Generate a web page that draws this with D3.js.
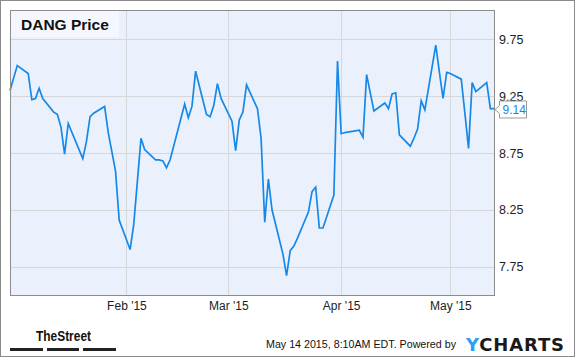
<!DOCTYPE html>
<html>
<head>
<meta charset="utf-8">
<script src="https://cdn.jsdelivr.net/npm/d3@7"></script>
<style>
  body { margin: 0; background: #fff; }
  svg { display: block; font-family: "Liberation Sans", Arial, sans-serif; }
</style>
</head>
<body>
<svg id="chart"></svg>
<script>
// Trading days shown on the chart
const dates = [
  "2014-12-31", "2015-01-02", "2015-01-05", "2015-01-06", "2015-01-07", "2015-01-08", "2015-01-09",
  "2015-01-12", "2015-01-13", "2015-01-14", "2015-01-15", "2015-01-16",
  "2015-01-20", "2015-01-21", "2015-01-22", "2015-01-23",
  "2015-01-26", "2015-01-27", "2015-01-28", "2015-01-29", "2015-01-30",
  "2015-02-02", "2015-02-03", "2015-02-04", "2015-02-05", "2015-02-06",
  "2015-02-09", "2015-02-10", "2015-02-11", "2015-02-12", "2015-02-13",
  "2015-02-17", "2015-02-18", "2015-02-19", "2015-02-20",
  "2015-02-23", "2015-02-24", "2015-02-25", "2015-02-26", "2015-02-27",
  "2015-03-02", "2015-03-03", "2015-03-04", "2015-03-05", "2015-03-06",
  "2015-03-09", "2015-03-10", "2015-03-11", "2015-03-12", "2015-03-13",
  "2015-03-16", "2015-03-17", "2015-03-18", "2015-03-19", "2015-03-20",
  "2015-03-23", "2015-03-24", "2015-03-25", "2015-03-26", "2015-03-27",
  "2015-03-30", "2015-03-31", "2015-04-01", "2015-04-02",
  "2015-04-06", "2015-04-07", "2015-04-08", "2015-04-09", "2015-04-10",
  "2015-04-13", "2015-04-14", "2015-04-15", "2015-04-16", "2015-04-17",
  "2015-04-20", "2015-04-21", "2015-04-22", "2015-04-23", "2015-04-24",
  "2015-04-27", "2015-04-28", "2015-04-29", "2015-04-30", "2015-05-01",
  "2015-05-04", "2015-05-05", "2015-05-06", "2015-05-07", "2015-05-08",
  "2015-05-11", "2015-05-12", "2015-05-13"
];

const prices = [
  9.30, 9.52, 9.45, 9.22, 9.23, 9.32, 9.23,
  9.11, 9.09, 8.98, 8.74, 9.01,
  8.70, 8.85, 9.07, 9.10,
  9.16, 8.93, 8.76, 8.59, 8.16,
  7.90, 8.12, 8.50, 8.88, 8.78,
  8.69, 8.69, 8.68, 8.62, 8.69,
  9.18, 9.06, 9.16, 9.47,
  9.09, 9.07, 9.17, 9.36, 9.23,
  9.03, 8.77, 9.04, 9.11, 9.35,
  9.14, 8.88, 8.14, 8.52, 8.25,
  7.86, 7.67, 7.89, 7.93, 8.00,
  8.23, 8.41, 8.45, 8.09, 8.09,
  8.38, 9.56, 8.92, 8.93,
  8.95, 8.89, 9.44, 9.28, 9.12,
  9.19, 9.14, 9.27, 9.28, 8.91,
  8.81, 8.88, 8.96, 9.21, 9.13,
  9.70, 9.46, 9.23, 9.46, 9.45,
  9.40, 9.10, 8.79, 9.37, 9.29,
  9.37, 9.14, 9.14
];

const yTicks = [7.75, 8.25, 8.75, 9.25, 9.75];
const xTicks = ["2015-02-01", "2015-03-01", "2015-04-01", "2015-05-01"];
const title = "DANG Price";

const width = 575, height = 358;
const plot = { left: 10, top: 10, right: 494, bottom: 295 };
const parse = d3.timeParse("%Y-%m-%d");
const data = dates.map((d, i) => ({ date: parse(d), value: prices[i] }));

const svg = d3.select("#chart").attr("width", width).attr("height", height);

// outer frame
svg.append("rect")
  .attr("x", 0.5).attr("y", 0.5)
  .attr("width", width - 1).attr("height", height - 2)
  .attr("fill", "#fff").attr("stroke", "#8a8a8a");

const x = d3.scaleTime()
  .domain([parse("2014-12-31"), parse("2015-05-13")])
  .range([plot.left, plot.right]);

const y = d3.scaleLinear()
  .domain([7.5, 10])
  .range([plot.bottom, plot.top + 1]);

// plot background
svg.append("rect")
  .attr("x", plot.left).attr("y", plot.top)
  .attr("width", plot.right - plot.left).attr("height", plot.bottom - plot.top)
  .attr("fill", "#eaf1fc");

// grid lines
svg.append("g")
  .selectAll("line")
  .data(yTicks)
  .join("line")
  .attr("x1", plot.left).attr("x2", plot.right)
  .attr("y1", d => Math.round(y(d)) + 0.5).attr("y2", d => Math.round(y(d)) + 0.5)
  .attr("stroke", "#d5d7db");

svg.append("g")
  .selectAll("line")
  .data(xTicks.map(parse))
  .join("line")
  .attr("x1", d => Math.round(x(d)) + 0.5).attr("x2", d => Math.round(x(d)) + 0.5)
  .attr("y1", plot.top).attr("y2", plot.bottom)
  .attr("stroke", "#d5d7db");

// title box
svg.append("rect")
  .attr("x", plot.left + 1).attr("y", plot.top + 1)
  .attr("width", 108).attr("height", 26)
  .attr("fill", "#f4f8fe");

svg.append("text")
  .attr("x", 21).attr("y", 29.5)
  .style("font-size", "15.5px")
  .style("font-weight", "bold")
  .attr("fill", "#111")
  .text(title);

// price line
const line = d3.line()
  .x(d => x(d.date))
  .y(d => y(d.value));

svg.append("path")
  .datum(data)
  .attr("fill", "none")
  .attr("stroke", "#1588e8")
  .attr("stroke-width", 1.7)
  .attr("stroke-linejoin", "miter")
  .attr("d", line);

// plot frame
svg.append("rect")
  .attr("x", plot.left + 0.5).attr("y", plot.top + 0.5)
  .attr("width", plot.right - plot.left).attr("height", plot.bottom - plot.top)
  .attr("fill", "none").attr("stroke", "#8c8c8c");

// y axis labels (right side)
const yAxis = d3.axisRight(y)
  .tickValues(yTicks)
  .tickSize(0)
  .tickPadding(5)
  .tickFormat(d3.format(".2f"));

svg.append("g")
  .attr("transform", `translate(${plot.right},0)`)
  .call(yAxis)
  .call(g => g.select(".domain").remove())
  .selectAll("text")
  .style("font-size", "12.5px")
  .style("font-family", "'Liberation Sans', Arial, sans-serif")
  .attr("fill", "#222");

// x axis labels
const xAxis = d3.axisBottom(x)
  .tickValues(xTicks.map(parse))
  .tickSize(0)
  .tickPadding(6)
  .tickFormat(d3.timeFormat("%b '%y"));

svg.append("g")
  .attr("transform", `translate(0,${plot.bottom})`)
  .call(xAxis)
  .call(g => g.select(".domain").remove())
  .selectAll("text")
  .style("font-size", "12px")
  .style("font-family", "'Liberation Sans', Arial, sans-serif")
  .attr("fill", "#222");

// last value callout
const last = data[data.length - 1];
const ly = Math.round(y(last.value)) + 0.5;
const bx = plot.right + 5.5;
svg.append("path")
  .attr("d", `M${bx},${ly - 8.5} L${bx + 27},${ly - 8.5} L${bx + 27},${ly + 8.5} L${bx},${ly + 8.5} L${bx},${ly + 4} L${plot.right + 1},${ly} L${bx},${ly - 4} Z`)
  .attr("fill", "#fff")
  .attr("stroke", "#999");

svg.append("text")
  .attr("x", bx + 3).attr("y", ly + 4.5)
  .style("font-size", "12px")
  .attr("fill", "#1588e8")
  .text(d3.format(".2f")(last.value));

// footer: TheStreet logo
svg.append("text")
  .attr("x", 36).attr("y", 341)
  .attr("textLength", 55)
  .attr("lengthAdjust", "spacingAndGlyphs")
  .style("font-size", "15px")
  .style("font-weight", "bold")
  .style("font-family", "'Liberation Sans Narrow', 'Liberation Sans', Arial, sans-serif")
  .attr("fill", "#111")
  .text("TheStreet");

svg.append("g")
  .selectAll("rect")
  .data([[10, 43], [47, 79], [83, 116]])
  .join("rect")
  .attr("x", d => d[0]).attr("y", 348)
  .attr("width", d => d[1] - d[0]).attr("height", 3)
  .attr("fill", "#222");

// footer: timestamp and YCharts
svg.append("text")
  .attr("x", 266).attr("y", 348)
  .attr("textLength", 190)
  .attr("lengthAdjust", "spacingAndGlyphs")
  .style("font-size", "11px")
  .attr("fill", "#111")
  .text("May 14 2015, 8:10AM EDT.  Powered by");

const yc = svg.append("text")
  .attr("x", 466).attr("y", 350.5)
  .attr("textLength", 98)
  .attr("lengthAdjust", "spacing")
  .style("font-size", "18px")
  .style("font-weight", "900")
  .style("font-family", "'DejaVu Sans', 'Liberation Sans', Arial, sans-serif");
yc.append("tspan").attr("fill", "#2ba0f2").text("Y");
yc.append("tspan").attr("fill", "#1a1a1a").text("CHARTS");
</script>
</body>
</html>
